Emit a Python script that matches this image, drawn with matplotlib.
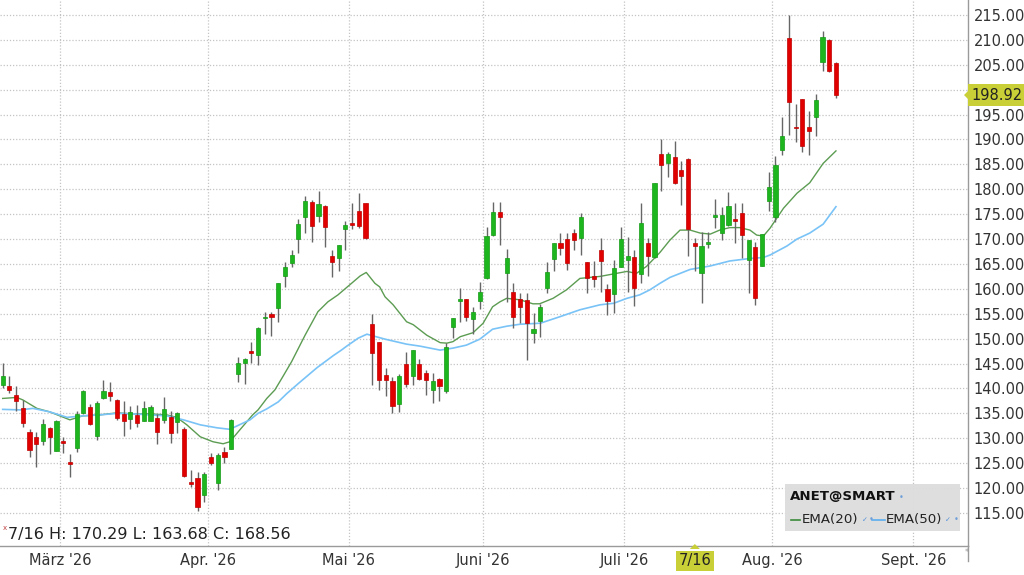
import numpy as np
import pandas as pd
import matplotlib
matplotlib.use("Agg")
import matplotlib.pyplot as plt
from matplotlib.patches import Polygon, Rectangle
from matplotlib.lines import Line2D

# ANET daily candles, 2026-02-17 .. 2026-08-14
opens = [140.7, 140.5, 138.7, 136.0, 131.2, 130.3, 129.5, 132.0, 127.5, 129.5,
         125.3, 128.0, 135.1, 136.3, 130.5, 138.0, 139.2, 137.7, 134.9, 133.9,
         134.7, 133.5, 133.5, 134.0, 133.7, 134.2, 133.3, 131.8, 121.3, 122.0,
         118.6, 126.2, 121.1, 127.3, 127.9, 143.0, 145.1, 147.5, 146.7, 154.1,
         155.0, 156.1, 162.5, 165.1, 170.0, 174.5, 177.5, 174.7, 176.7, 166.5,
         166.1, 172.0, 173.2, 175.7, 177.2, 153.0, 149.3, 142.7, 141.5, 136.9,
         144.9, 142.6, 145.0, 143.2, 139.6, 142.0, 139.4, 152.3, 157.6, 157.9,
         153.9, 157.6, 162.1, 170.8, 175.4, 163.1, 159.4, 157.9, 157.8, 151.1,
         153.6, 160.1, 165.9, 169.2, 170.0, 171.2, 170.2, 165.3, 162.5, 167.8,
         160.0, 159.0, 164.4, 165.7, 166.3, 163.0, 169.2, 166.3, 187.1, 185.3,
         186.4, 183.9, 186.1, 169.3, 163.1, 169.0, 174.4, 171.3, 172.8, 174.0,
         175.3, 165.8, 168.5, 164.6, 177.7, 174.4, 187.9, 210.3, 192.4, 198.1,
         192.6, 194.6, 205.6, 210.0, 205.4]
highs = [145.1, 142.5, 140.4, 137.7, 131.8, 131.3, 133.8, 132.2, 133.7, 130.3,
         126.8, 135.5, 139.6, 136.8, 137.5, 141.7, 141.2, 137.8, 137.5, 136.5,
         136.7, 137.5, 136.7, 134.9, 138.2, 135.5, 135.2, 132.2, 123.6, 123.3,
         123.3, 127.1, 127.1, 128.2, 133.8, 146.3, 146.2, 149.4, 152.3, 155.4,
         155.4, 161.2, 165.3, 167.8, 174.0, 178.7, 177.9, 179.7, 176.8, 167.8,
         168.9, 173.6, 177.2, 179.2, 177.3, 155.0, 149.4, 144.1, 142.4, 143.0,
         147.4, 147.8, 145.9, 143.7, 143.2, 142.1, 149.1, 154.2, 160.1, 158.0,
         156.3, 161.4, 172.5, 177.5, 177.5, 168.0, 161.2, 159.1, 159.1, 155.1,
         157.0, 165.3, 169.3, 171.2, 171.3, 172.0, 175.3, 165.4, 165.5, 170.2,
         161.0, 165.7, 172.5, 170.5, 167.8, 177.3, 170.2, 181.3, 190.0, 187.5,
         189.6, 185.7, 186.2, 170.29, 171.5, 171.5, 178.0, 176.4, 179.5, 177.3,
         177.2, 169.8, 169.5, 171.0, 183.5, 186.7, 194.5, 215.0, 197.1, 198.2,
         195.8, 199.1, 211.7, 210.2, 205.5]
lows = [140.1, 139.1, 135.5, 132.2, 126.2, 124.3, 128.7, 126.8, 127.4, 127.1,
        122.3, 127.3, 134.8, 132.7, 129.7, 137.8, 137.5, 133.7, 130.5, 131.8,
        132.2, 133.4, 133.4, 128.9, 133.0, 129.1, 131.0, 122.3, 120.3, 115.3,
        117.3, 124.6, 119.6, 125.0, 127.8, 141.2, 140.9, 145.2, 144.7, 150.9,
        150.5, 153.4, 160.4, 164.3, 167.3, 171.2, 169.5, 173.5, 168.5, 162.3,
        163.5, 167.8, 172.0, 172.2, 170.0, 140.7, 139.7, 138.5, 135.1, 135.3,
        140.2, 140.7, 141.7, 138.7, 137.0, 137.5, 139.0, 150.1, 153.4, 153.6,
        150.9, 155.9, 162.0, 170.7, 168.8, 157.4, 152.1, 153.1, 145.7, 149.1,
        150.3, 159.1, 163.6, 166.8, 163.8, 167.8, 166.8, 159.2, 160.4, 159.4,
        154.8, 155.1, 164.3, 159.4, 156.6, 161.2, 162.5, 166.2, 179.7, 182.4,
        181.1, 176.8, 166.5, 163.68, 157.2, 168.3, 172.2, 169.8, 172.6, 169.2,
        166.1, 159.2, 156.8, 164.5, 175.7, 173.5, 186.9, 190.9, 189.4, 187.5,
        186.9, 190.6, 203.8, 203.6, 198.3]
closes = [142.5, 139.6, 137.4, 133.0, 127.7, 128.9, 132.8, 130.3, 133.5, 129.1,
          124.8, 134.9, 139.4, 132.9, 137.1, 139.5, 138.4, 134.1, 133.5, 135.3,
          133.1, 136.0, 136.2, 131.3, 135.9, 131.0, 135.0, 122.4, 120.8, 116.3,
          122.8, 125.0, 126.6, 126.3, 133.7, 145.2, 146.0, 147.2, 152.1, 154.4,
          154.4, 161.1, 164.3, 166.8, 173.0, 177.7, 172.6, 177.0, 172.5, 165.3,
          168.8, 172.8, 172.9, 172.7, 170.2, 147.2, 141.8, 141.8, 136.5, 142.5,
          140.8, 147.7, 142.0, 141.7, 141.6, 140.5, 148.4, 154.1, 158.0, 154.4,
          155.3, 159.4, 170.7, 175.4, 174.5, 166.1, 154.3, 156.4, 153.2, 151.9,
          156.4, 163.3, 169.2, 168.2, 165.1, 169.8, 174.5, 162.1, 161.9, 165.6,
          157.6, 164.1, 170.0, 166.6, 160.1, 173.3, 166.6, 181.2, 184.9, 187.1,
          181.2, 182.7, 172.0, 168.56, 168.6, 169.4, 174.6, 174.8, 176.6, 173.7,
          170.8, 169.8, 158.1, 171.0, 180.4, 184.9, 190.6, 197.5, 192.2, 188.7,
          191.7, 197.9, 210.6, 203.8, 198.92]

# EMA lines (x = candle index)
ema20_x = [0, 2.1, 3.0, 5.1, 7.0, 10.0, 11.9, 14.5, 17.0, 19.4, 21.9, 24.4, 25.9,
           27.4, 29.4, 31.3, 32.8, 33.8, 35.3, 37.2, 38.0, 39.3, 40.5, 41.7, 43.0,
           45.0, 46.9, 48.4, 49.9, 51.9, 53.2, 54.1, 55.4, 56.1, 56.9, 58.1, 60.1,
           61.1, 63.1, 65.1, 66.1, 67.0, 68.1, 70.0, 71.5, 72.9, 74.0, 75.0, 77.0,
           78.9, 79.9, 81.9, 83.9, 85.9, 88.9, 90.9, 92.9, 94.3, 95.8, 97.8, 99.3,
           100.8, 102.3, 103.8, 105.3, 106.7, 108.2, 109.7, 111.2, 112.2, 113.2,
           114.2, 116.2, 118.2, 120.1, 122.1, 124.0]
ema20_y = [138.0, 138.2, 137.7, 136.0, 135.3, 133.7, 134.5, 134.7, 135.1, 134.9,
           134.9, 134.7, 134.2, 132.7, 130.3, 129.3, 128.9, 129.3, 131.7, 134.7,
           135.7, 138.0, 139.7, 142.4, 145.4, 150.7, 155.4, 157.4, 158.8, 161.1,
           162.6, 163.3, 161.1, 160.4, 158.4, 156.8, 153.4, 152.8, 150.7, 149.2,
           149.1, 149.4, 150.4, 151.2, 153.1, 156.4, 157.4, 158.1, 157.8, 157.0,
           157.0, 158.1, 159.8, 162.1, 162.5, 163.0, 163.5, 163.1, 164.5, 167.3,
           169.8, 171.8, 171.8, 171.2, 171.0, 171.8, 172.3, 172.3, 171.8, 170.8,
           170.6, 172.2, 176.2, 179.2, 181.3, 185.2, 187.7]
ema50_x = [0, 2.6, 4.5, 7.0, 9.6, 11.9, 14.5, 17.0, 19.4, 21.9, 24.4, 26.9, 29.4,
           31.9, 33.8, 36.8, 38.0, 39.3, 41.0, 42.3, 44.0, 46.8, 48.0, 49.2, 50.4,
           51.2, 52.9, 54.2, 56.9, 60.1, 62.1, 65.1, 67.0, 69.0, 71.0, 72.9, 75.0,
           77.0, 80.0, 82.9, 85.9, 88.9, 90.9, 92.9, 94.8, 96.3, 97.8, 99.3, 102.3,
           105.3, 108.2, 111.2, 113.2, 114.2, 116.7, 118.2, 120.1, 122.1, 124.0]
ema50_y = [135.8, 135.7, 136.0, 135.3, 134.2, 134.5, 134.7, 135.0, 134.9, 134.7,
           134.5, 133.7, 132.7, 132.1, 131.8, 133.7, 135.0, 135.9, 137.3, 139.0,
           141.0, 144.2, 145.4, 146.6, 147.7, 148.5, 150.1, 150.9, 149.9, 148.9,
           148.5, 147.7, 148.1, 148.7, 149.9, 151.9, 152.5, 152.9, 153.1, 154.4,
           155.8, 156.8, 157.1, 158.1, 158.8, 159.8, 161.1, 162.3, 163.9, 164.6,
           165.6, 166.1, 166.3, 166.8, 168.6, 170.0, 171.2, 173.0, 176.5]

month_labels = ["März '26", "Apr. '26", "Mai '26", "Juni '26", "Juli '26", "Aug. '26", "Sept. '26"]
y_ticks = np.arange(115, 216, 5)
last_price = 198.92
info_text = "7/16 H: 170.29 L: 163.68 C: 168.56"
holidays = ["2026-04-03", "2026-05-25", "2026-06-19", "2026-07-03"]

# trading calendar (incl. future days for the month grid)
days = pd.bdate_range("2026-02-17", "2026-09-30")
days = days[~days.isin(pd.to_datetime(holidays))]
month_start = [i for i in range(1, len(days)) if days[i].month != days[i - 1].month]
month_pos = [i - 0.5 for i in month_start]
cross_idx = list(days).index(pd.Timestamp("2026-07-16"))

W, H = 1024, 575
fig = plt.figure(figsize=(W / 100, H / 100), dpi=100)
ax = fig.add_axes([0, 29 / H, 968 / W, 546 / H])
ax.set_xlim(-0.4, 143.65)
ax.set_ylim(108.37, 218.0)

GRID = "#c4c4c4"
for y in y_ticks:
    ax.axhline(y, color=GRID, lw=0.9, ls=(0, (1, 1.5)), zorder=0)
for x in month_pos:
    ax.axvline(x, color=GRID, lw=0.9, ls=(0, (1, 1.5)), zorder=0)

ax.plot(ema20_x, ema20_y, color="#5c9c52", lw=1.0, zorder=2)
ax.plot(ema50_x, ema50_y, color="#79c3f7", lw=1.2, zorder=2)

o = np.array(opens); c = np.array(closes)
idx = np.arange(len(o))
up = c >= o
ax.vlines(idx, lows, highs, color="#666666", lw=1.0, zorder=3)
body_lo = np.minimum(o, c)
body_h = np.maximum(np.abs(c - o), 0.35)
cols = np.where(up, "#1eb61e", "#e00000")
edges = np.where(up, "#149a14", "#c00000")
ax.bar(idx, body_h, bottom=body_lo, width=0.62, color=cols, edgecolor=edges,
       linewidth=0.5, zorder=4)

# the 200.00 label sits under the last-price tag
ax.yaxis.tick_right()
ax.set_yticks(y_ticks)
ax.set_yticklabels(["" if abs(v - last_price) < 3 else f"{v:.2f}" for v in y_ticks])
ax.tick_params(axis="y", length=0, pad=4, labelsize=10.5, labelcolor="#333333")
ax.set_xticks(month_pos[:len(month_labels)])
ax.set_xticklabels(month_labels)
ax.tick_params(axis="x", length=0, pad=5, labelsize=10.5, labelcolor="#333333")
for s in ["top", "left"]:
    ax.spines[s].set_visible(False)
for s in ["right", "bottom"]:
    ax.spines[s].set_color("#9a9a9a")
    ax.spines[s].set_linewidth(1.0)
fig.add_artist(Line2D([968 / W, 968 / W], [29 / H, 14 / H], color="#9a9a9a", lw=1.0))
fig.text(967 / W, 1 - 553 / H, "*", fontsize=6, color="#999999", ha="center", va="center")

# OHLC info line
fig.text(5 / W, 1 - 528 / H, "x", fontsize=5, color="#c04040", ha="center", va="center")
fig.text(8 / W, 1 - 535 / H, info_text, fontsize=11.5, color="#222222", ha="left", va="center")

YEL = "#c9cf37"
# last price label
py = ax.transData.transform((0, last_price))[1] / H
fig.text(997 / W, py, f"{last_price:.2f}", fontsize=10.5, color="#222222", ha="center", va="center",
         bbox=dict(boxstyle="square,pad=0.25", fc=YEL, ec="none"))
fig.add_artist(Polygon([(964 / W, py), (971 / W, py + 7 / H), (971 / W, py - 7 / H)],
                       closed=True, fc=YEL, ec="none", transform=fig.transFigure))

# crosshair date label
cx = ax.transData.transform((cross_idx, 0))[0] / W
fig.text(cx, 1 - 561 / H, "7/16", fontsize=10.5, color="#222222", ha="center", va="center",
         bbox=dict(boxstyle="square,pad=0.2", fc=YEL, ec="none"))
fig.add_artist(Polygon([(cx, 1 - 544 / H), (cx - 5 / W, 1 - 549 / H), (cx + 5 / W, 1 - 549 / H)],
                       closed=True, fc=YEL, ec="none", transform=fig.transFigure))

# legend box
fig.add_artist(Rectangle((785 / W, 1 - 531 / H), 175 / W, 47 / H, fc="#dddddd", ec="none",
                         alpha=0.95, transform=fig.transFigure))
fig.text(790 / W, 1 - 497 / H, "ANET@SMART", fontsize=9.6, fontweight="bold", color="#111111",
         ha="left", va="center")
fig.text(901 / W, 1 - 497 / H, "\u2022", fontsize=6, color="#6f9fd8", ha="center", va="center")
ry = 1 - 520 / H
fig.add_artist(Line2D([791 / W, 800 / W], [ry, ry], color="#3a8a3a", lw=1.2))
fig.text(802 / W, ry, "EMA(20)", fontsize=9.6, color="#222222", ha="left", va="center")
fig.text(865 / W, ry, "\u2713", fontsize=5, color="#4f8fd8", ha="center", va="center")
fig.text(871 / W, ry, "\u2022", fontsize=6, color="#6f9fd8", ha="center", va="center")
fig.add_artist(Line2D([872 / W, 885 / W], [ry, ry], color="#5aaef0", lw=1.2))
fig.text(886 / W, ry, "EMA(50)", fontsize=9.6, color="#222222", ha="left", va="center")
fig.text(948 / W, ry, "\u2713", fontsize=5, color="#4f8fd8", ha="center", va="center")
fig.text(956 / W, ry, "\u2022", fontsize=6, color="#6f9fd8", ha="center", va="center")

fig.savefig("out.png", dpi=100)
